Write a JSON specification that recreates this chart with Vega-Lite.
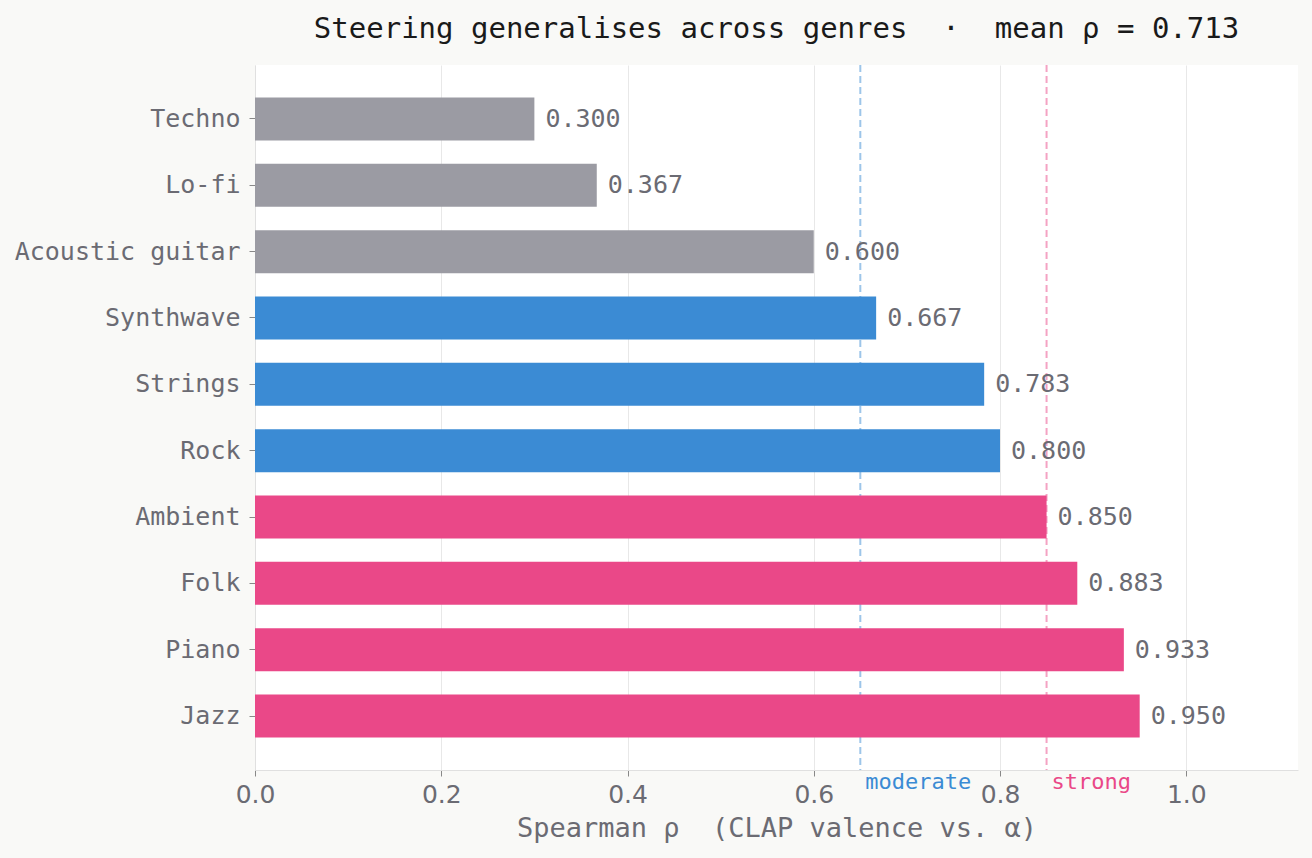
{
  "$schema": "https://vega.github.io/schema/vega-lite/v6.json",
  "width": 1043,
  "height": 705,
  "autosize": {"type": "none"},
  "padding": {"left": 255, "top": 65, "right": 14, "bottom": 88},
  "background": "#f9f9f7",
  "title": {
    "text": "Steering generalises across genres \u00a0·\u00a0 mean ρ = 0.713",
    "font": "DejaVu Sans Mono",
    "fontSize": 29,
    "fontWeight": "normal",
    "color": "#1a1a1a",
    "anchor": "middle",
    "frame": "group",
    "offset": 20
  },
  "config": {
    "view": {"fill": "#ffffff", "stroke": null},
    "axis": {"labelColor": "#6b6b73", "titleColor": "#6b6b73"}
  },
  "datasets": {
    "genres": [
      {"genre": "Techno", "rho": 0.300, "tier": "weak"},
      {"genre": "Lo-fi", "rho": 0.367, "tier": "weak"},
      {"genre": "Acoustic guitar", "rho": 0.600, "tier": "weak"},
      {"genre": "Synthwave", "rho": 0.667, "tier": "moderate"},
      {"genre": "Strings", "rho": 0.783, "tier": "moderate"},
      {"genre": "Rock", "rho": 0.800, "tier": "moderate"},
      {"genre": "Ambient", "rho": 0.850, "tier": "strong"},
      {"genre": "Folk", "rho": 0.883, "tier": "strong"},
      {"genre": "Piano", "rho": 0.933, "tier": "strong"},
      {"genre": "Jazz", "rho": 0.950, "tier": "strong"}
    ],
    "thresholds": [
      {"label": "moderate", "threshold": 0.65, "tier": "moderate"},
      {"label": "strong", "threshold": 0.85, "tier": "strong"}
    ]
  },
  "layer": [
    {
      "data": {"name": "thresholds"},
      "mark": {"type": "rule", "strokeDash": [7, 4], "strokeWidth": 2, "opacity": 0.5},
      "encoding": {
        "x": {"field": "threshold", "type": "quantitative"},
        "color": {"field": "tier", "type": "nominal", "legend": null,
          "scale": {"domain": ["weak", "moderate", "strong"], "range": ["#9b9ba3", "#3b8bd4", "#ea4888"]}}
      }
    },
    {
      "data": {"name": "genres"},
      "mark": {"type": "bar"},
      "encoding": {
        "y": {
          "field": "genre", "type": "nominal",
          "sort": ["Techno", "Lo-fi", "Acoustic guitar", "Synthwave", "Strings", "Rock", "Ambient", "Folk", "Piano", "Jazz"],
          "scale": {"paddingInner": 0.352, "paddingOuter": 0.49},
          "axis": {
            "title": null,
            "labelFont": "DejaVu Sans Mono",
            "labelFontSize": 25,
            "labelPadding": 9,
            "labelLimit": 400,
            "tickSize": 6,
            "tickColor": "#888888",
            "domainColor": "#e0e0e0",
            "grid": false
          }
        },
        "x": {
          "field": "rho", "type": "quantitative",
          "scale": {"domain": [0, 1.12], "nice": false},
          "axis": {
            "title": "Spearman ρ \u00a0(CLAP valence vs. α)",
            "titleFont": "DejaVu Sans Mono",
            "titleFontSize": 27,
            "titleFontWeight": "normal",
            "titlePadding": 8,
            "labelFont": "DejaVu Sans",
            "labelFontSize": 25,
            "labelPadding": 6,
            "format": ".1f",
            "values": [0, 0.2, 0.4, 0.6, 0.8, 1.0],
            "tickSize": 6,
            "tickColor": "#888888",
            "domainColor": "#e0e0e0",
            "grid": true,
            "gridColor": "#e8e8e8",
            "labelFlush": false
          }
        },
        "color": {"field": "tier", "type": "nominal", "legend": null}
      }
    },
    {
      "data": {"name": "genres"},
      "mark": {"type": "text", "align": "left", "baseline": "middle", "dx": 11, "font": "DejaVu Sans Mono", "fontSize": 25, "color": "#6b6b73"},
      "encoding": {
        "y": {"field": "genre", "type": "nominal",
          "sort": ["Techno", "Lo-fi", "Acoustic guitar", "Synthwave", "Strings", "Rock", "Ambient", "Folk", "Piano", "Jazz"]},
        "x": {"field": "rho", "type": "quantitative"},
        "text": {"field": "rho", "type": "quantitative", "format": ".3f"}
      }
    },
    {
      "data": {"name": "thresholds"},
      "mark": {"type": "text", "align": "left", "baseline": "middle", "dx": 5, "y": "height", "dy": 12, "font": "DejaVu Sans Mono", "fontSize": 22},
      "encoding": {
        "x": {"field": "threshold", "type": "quantitative"},
        "text": {"field": "label"},
        "color": {"field": "tier", "type": "nominal", "legend": null}
      }
    }
  ]
}
